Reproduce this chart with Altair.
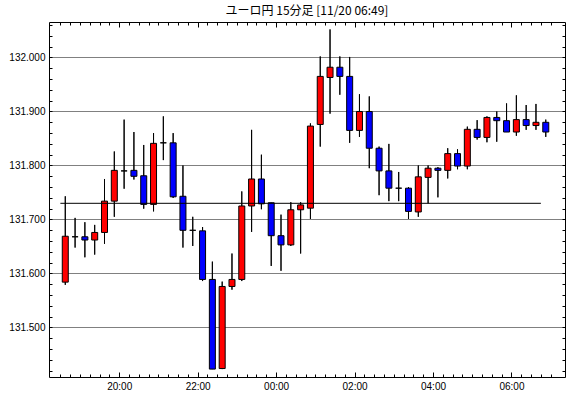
import altair as alt
import pandas as pd

title_text = "ユーロ円 15分足 [11/20 06:49]"

bar_times = ["18:30", "18:45", "19:00", "19:15", "19:30", "19:45",
             "20:00", "20:15", "20:30", "20:45", "21:00", "21:15",
             "21:30", "21:45", "22:00", "22:15", "22:30", "22:45",
             "23:00", "23:15", "23:30", "23:45", "00:00", "00:15",
             "00:30", "00:45", "01:00", "01:15", "01:30", "01:45",
             "02:00", "02:15", "02:30", "02:45", "03:00", "03:15",
             "03:30", "03:45", "04:00", "04:15", "04:30", "04:45",
             "05:00", "05:15", "05:30", "05:45", "06:00", "06:15",
             "06:30", "06:45"]

opens = [131.584, 131.668, 131.668, 131.662, 131.676, 131.734, 131.790, 131.791, 131.781, 131.728,
         131.842, 131.842, 131.743, 131.680, 131.679, 131.589, 131.424, 131.576, 131.589, 131.725,
         131.775, 131.731, 131.670, 131.653, 131.718, 131.721, 131.876, 131.963, 131.982, 131.965,
         131.865, 131.900, 131.832, 131.790, 131.758, 131.758, 131.714, 131.778, 131.795, 131.791,
         131.822, 131.799, 131.867, 131.852, 131.889, 131.883, 131.862, 131.885, 131.874, 131.880]
highs = [131.743, 131.703, 131.695, 131.690, 131.775, 131.826, 131.885, 131.862, 131.838, 131.860,
         131.891, 131.860, 131.800, 131.705, 131.686, 131.622, 131.585, 131.637, 131.752, 131.866,
         131.820, 131.731, 131.709, 131.732, 131.732, 131.878, 132.002, 132.052, 132.002, 132.001,
         131.932, 131.928, 131.835, 131.840, 131.788, 131.760, 131.800, 131.800, 131.797, 131.832,
         131.830, 131.872, 131.884, 131.891, 131.900, 131.915, 131.930, 131.912, 131.914, 131.885]
lows = [131.579, 131.648, 131.630, 131.635, 131.655, 131.705, 131.757, 131.774, 131.720, 131.715,
        131.810, 131.740, 131.648, 131.651, 131.586, 131.423, 131.423, 131.570, 131.586, 131.677,
        131.719, 131.614, 131.605, 131.651, 131.637, 131.701, 131.835, 131.896, 131.931, 131.842,
        131.853, 131.795, 131.745, 131.734, 131.734, 131.701, 131.705, 131.730, 131.741, 131.776,
        131.793, 131.793, 131.848, 131.843, 131.844, 131.862, 131.855, 131.866, 131.866, 131.853]
closes = [131.669, 131.668, 131.662, 131.676, 131.734, 131.791, 131.790, 131.780, 131.728, 131.841,
          131.842, 131.742, 131.680, 131.680, 131.589, 131.423, 131.576, 131.589, 131.725, 131.775,
          131.729, 131.670, 131.653, 131.718, 131.727, 131.873, 131.965, 131.982, 131.965, 131.865,
          131.900, 131.832, 131.790, 131.758, 131.758, 131.715, 131.779, 131.795, 131.791, 131.822,
          131.799, 131.867, 131.852, 131.889, 131.883, 131.862, 131.885, 131.874, 131.880, 131.862]

ref_level = 131.730
y_tick_labels = [131.5, 131.6, 131.7, 131.8, 131.9, 132.0]
x_tick_labels = ["20:00", "22:00", "00:00", "02:00", "04:00", "06:00"]


def to_min(s):
    h, m = map(int, s.split(":"))
    return ((h - 18) % 24) * 60 + m


bar_min = [to_min(s) for s in bar_times]
step = bar_min[1] - bar_min[0]
df = pd.DataFrame({
    "time": bar_times,
    "start": bar_min,
    "t": [m + step / 2 for m in bar_min],
    "open": opens, "high": highs, "low": lows, "close": closes,
})
df["body_lo"] = df[["open", "close"]].min(axis=1)
df["body_hi"] = df[["open", "close"]].max(axis=1)
df["dir"] = ["up" if c > o else ("down" if c < o else "flat") for o, c in zip(opens, closes)]

ref_df = pd.DataFrame({"x": [bar_min[0]], "x2": [bar_min[-1]], "y": [ref_level]})

X_DOMAIN = [20.25, 794.25]
Y_DOMAIN = [131.40833, 132.06574]
xs = alt.Scale(domain=X_DOMAIN, nice=False, zero=False)
ys = alt.Scale(domain=Y_DOMAIN, nice=False, zero=False)

x_major = [to_min(s) for s in x_tick_labels]
x_minor = list(range(30, 790, step))
y_minor = [round(131.42 + 0.02 * i, 2) for i in range(33)]

LBL_FONT = "Liberation Sans"
label_expr = "timeFormat(datetime(2000, 0, 1, 18, datum.value), '%H:%M')"

ax_x_major_bottom = alt.Axis(orient="bottom", values=x_major, tickSize=5, offset=-5, domain=False,
                             grid=False, labelExpr=label_expr, labelPadding=4, title=None,
                             labelFlush=False, labelOverlap=False)
ax_x_minor_bottom = alt.Axis(orient="bottom", values=x_minor, tickSize=3, offset=-3, domain=False,
                             grid=False, labels=False, title=None)
ax_x_major_top = alt.Axis(orient="top", values=x_major, tickSize=5, offset=-5, domain=False,
                          grid=False, labels=False, title=None)
ax_x_minor_top = alt.Axis(orient="top", values=x_minor, tickSize=3, offset=-3, domain=False,
                          grid=False, labels=False, title=None)
ax_y_main = alt.Axis(orient="left", values=y_tick_labels, format=".3f", ticks=False, domain=False,
                     grid=True, gridDash=[1, 1], gridColor="black", gridOpacity=1, gridWidth=1,
                     labelPadding=4, title=None, labelFlush=False, labelOverlap=False)
ax_y_minor_left = alt.Axis(orient="left", values=y_minor, tickSize=3, offset=-3, domain=False,
                           grid=False, labels=False, title=None)
ax_y_minor_right = alt.Axis(orient="right", values=y_minor, tickSize=3, offset=-3, domain=False,
                            grid=False, labels=False, title=None)

base = alt.Chart(df)

wicks = base.mark_rule(color="black", strokeWidth=1).encode(
    x=alt.X("t:Q", scale=xs, axis=ax_x_major_bottom),
    y=alt.Y("low:Q", scale=ys, axis=ax_y_main),
    y2="high:Q",
)
wicks2 = base.mark_rule(color="black", strokeWidth=1).encode(
    x=alt.X("t:Q", scale=xs, axis=ax_x_major_top),
    y=alt.Y("low:Q", scale=ys, axis=None),
    y2="high:Q",
)
bodies = base.mark_bar(size=6, stroke="black", strokeWidth=1).encode(
    x=alt.X("t:Q", scale=xs, axis=ax_x_minor_bottom),
    y=alt.Y("body_lo:Q", scale=ys, axis=ax_y_minor_left),
    y2="body_hi:Q",
    color=alt.Color("dir:N", scale=alt.Scale(domain=["up", "down", "flat"],
                                             range=["#ff0000", "#0000ff", "#000000"]), legend=None),
)
ref = alt.Chart(ref_df).mark_rule(color="black", strokeWidth=1).encode(
    x=alt.X("x:Q", scale=xs, axis=ax_x_minor_top),
    x2="x2:Q",
    y=alt.Y("y:Q", scale=ys, axis=ax_y_minor_right),
)

chart = alt.layer(wicks, wicks2, bodies, ref).resolve_axis(
    x="independent", y="independent"
).properties(
    width=516, height=355,
    padding={"left": 49, "top": 22, "right": 5, "bottom": 21},
    autosize=alt.AutoSizeParams(type="none"),
    background="white",
    title=alt.TitleParams(text=title_text, font="Noto Sans CJK JP", fontSize=12,
                          fontWeight="normal", anchor="middle", frame="group", offset=4,
                          color="black"),
).configure_view(
    stroke="black", strokeWidth=1
).configure_axis(
    labelColor="black", tickColor="black", labelFont=LBL_FONT, labelFontSize=10,
    tickWidth=1
)

chart.save("out.html", embed_options={"renderer": "svg", "actions": False})
